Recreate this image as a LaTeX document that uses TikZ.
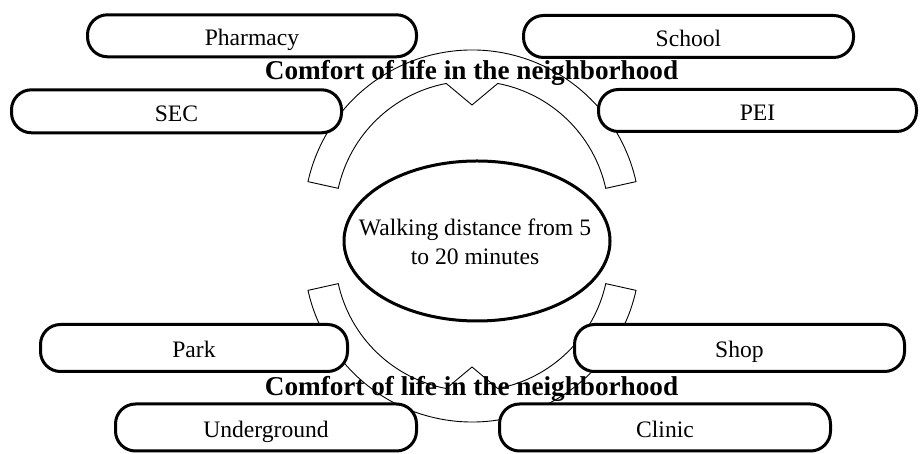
\documentclass[tikz,border=0pt]{standalone}
\usepackage{fontspec}
\setmainfont{Liberation Serif}
\usetikzlibrary{shapes.geometric}
\begin{document}
\begin{tikzpicture}[x=1pt,y=1pt,
  item/.style={draw, line width=3pt, fill=white, rounded corners=20pt,
    inner sep=0pt, text height=20pt, text depth=0pt,
    font=\fontsize{23.6}{28.3}\selectfont},
  band/.style={draw, line width=0.9pt, fill=white, line join=miter},
  heading/.style={font=\fontsize{27.2}{32}\selectfont\bfseries, anchor=base, inner sep=0pt},
  oval/.style={draw, ellipse, line width=3pt, fill=white, inner sep=0pt}]
\useasboundingbox (0,0) rectangle (920,454);
\fill[white] (0,0) rectangle (920,454);

% upper band with notch
\draw[band] ([shift={(472,236)}]12.5:168) arc[start angle=12.5,end angle=167.5,radius=168pt]
  -- ([shift={(472,236)}]167.5:137) arc[start angle=167.5,end angle=100.85,radius=137pt]
  -- ([shift={(472,236)}]90:113) -- ([shift={(472,236)}]79.15:137)
  arc[start angle=79.15,end angle=12.5,radius=137pt] -- cycle;

% lower band with notch
\draw[band] ([shift={(472,200)}]-12.5:168) arc[start angle=-12.5,end angle=-167.5,radius=168pt]
  -- ([shift={(472,200)}]-167.5:137) arc[start angle=-167.5,end angle=-100.85,radius=137pt]
  -- ([shift={(472,200)}]-90:113) -- ([shift={(472,200)}]-79.15:137)
  arc[start angle=-79.15,end angle=-12.5,radius=137pt] -- cycle;

% headings
\node[heading] (titletop) at (471.5,374.7) {Comfort of life in the neighborhood};
\node[heading] (titlebot) at (471.5,58) {Comfort of life in the neighborhood};

% boxes
\node[item, minimum width=329pt, minimum height=42pt] (pharmacy) at (252,418.2) {Pharmacy};
\node[item, minimum width=330pt, minimum height=42pt] (school) at (688.5,417.5) {School};
\node[item, minimum width=330pt, minimum height=43pt] (sec) at (176.5,342.7) {SEC};
\node[item, minimum width=318pt, minimum height=42pt] (pei) at (757.5,343.5) {PEI};
\node[item, minimum width=307pt, minimum height=47pt] (park) at (194,106) {Park};
\node[item, minimum width=330pt, minimum height=47pt] (shop) at (739.5,106) {Shop};
\node[item, minimum width=301pt, minimum height=47pt] (underground) at (266,26.5) {Underground};
\node[item, minimum width=331pt, minimum height=47pt] (clinic) at (665,26.5) {Clinic};

% central ellipse
\node[oval, minimum width=266pt, minimum height=160pt] (ovalshape) at (477,213) {};
\node[font=\fontsize{23.6}{28.3}\selectfont, align=center, inner sep=0pt] (walk) at (475,212.3)
  {Walking distance from 5\\to 20 minutes};
\end{tikzpicture}
\end{document}
